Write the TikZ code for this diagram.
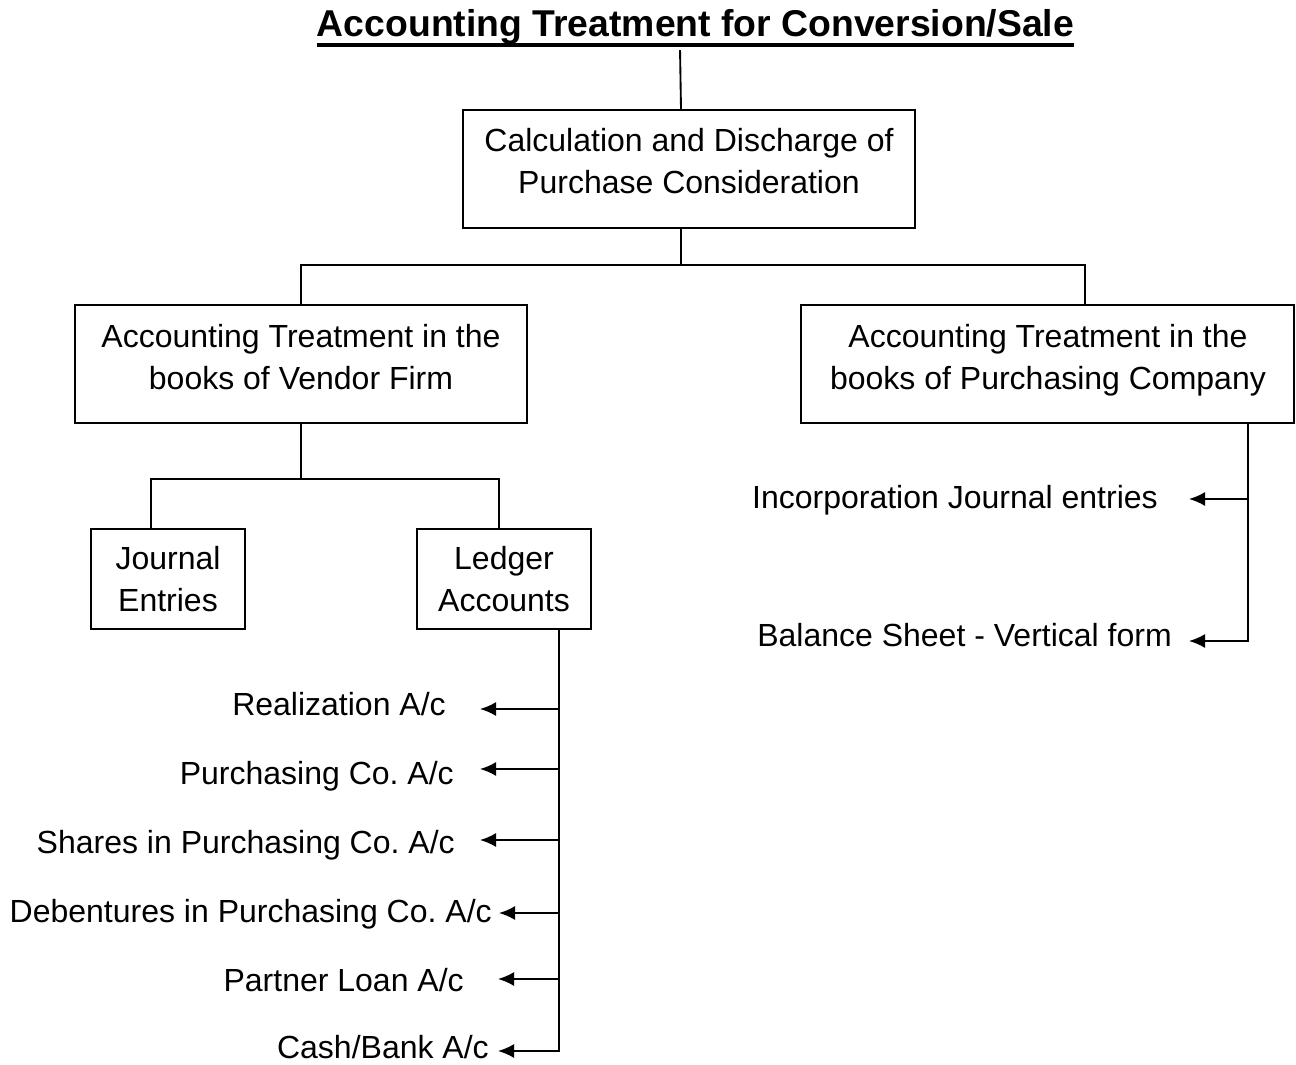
\documentclass[tikz,border=0pt]{standalone}
\usepackage{fontspec}
\setmainfont{Liberation Sans}
\usetikzlibrary{arrows.meta}
\frenchspacing
\begin{document}
\begin{tikzpicture}[x=0.75pt,y=-0.75pt,
  every node/.style={font=\fontsize{24}{31.5}\selectfont},
  ln/.style={line width=1.4pt},
  boxst/.style={draw,line width=1.4pt,fill=white,inner sep=0pt},
  txt/.style={align=center,inner sep=0pt},
  lbl/.style={inner sep=0pt,anchor=base east},
  arr/.style={line width=1.4pt,-{Latex[length=12pt,width=10.5pt]}}]
\useasboundingbox (0,0) rectangle (1296,1064);

% title
\node[inner sep=0pt,anchor=base,font=\fontsize{28}{34}\selectfont\bfseries] (title) at (695.5,36) {Accounting Treatment for Conversion/Sale};
\draw[line width=2.4pt] ([yshift=-6.75pt]title.base west) -- ([yshift=-6.75pt]title.base east);

% boxes
\node[boxst,minimum width=339pt,minimum height=88.5pt] (top) at (689,169) {};
\node[txt] (topt) at (689,161) {Calculation and Discharge of\\Purchase Consideration};

\node[boxst,minimum width=339pt,minimum height=88.5pt] (vend) at (301,364) {};
\node[txt] (vendt) at (301,357) {Accounting Treatment in the\\books of Vendor Firm};

\node[boxst,minimum width=369.75pt,minimum height=88.5pt] (purch) at (1047.5,364) {};
\node[txt] (purcht) at (1048,360) {Accounting Treatment in the\\books of Purchasing Company};

\node[boxst,align=center,minimum width=115.5pt,minimum height=75pt] (jour) at (168,579) {Journal\\Entries};
\node[boxst,align=center,minimum width=130.5pt,minimum height=75pt] (ledg) at (504,579) {Ledger\\Accounts};

% tree connectors
\draw[ln] ([xshift=-11.6pt,yshift=-4.5pt]title.south) -- ([xshift=-6pt]top.north);
\draw[ln] ([xshift=-6pt]top.south) -- ++(0,36) coordinate (j1);
\draw[ln] (vend.north) |- (j1) -| ([xshift=28.1pt]purch.north);
\draw[ln] (vend.south) -- ++(0,55) coordinate (j2);
\draw[ln] ([xshift=-12.75pt]jour.north) |- (j2) -| ([xshift=-3.75pt]ledg.north);

% ledger account labels
\node[lbl] (t1) at (446,715) {Realization A/c};
\node[lbl] (t2) at (454,784) {Purchasing Co. A/c};
\node[lbl] (t3) at (455,853) {Shares in Purchasing Co. A/c};
\node[lbl] (t4) at (492,922) {Debentures in Purchasing Co. A/c};
\node[lbl] (t5) at (464,991) {Partner Loan A/c};
\node[lbl] (t6) at (489,1058) {Cash/Bank A/c};

\coordinate (lt) at ([xshift=41.25pt]ledg.south);
\coordinate (a1) at (480,709);
\coordinate (a2) at (480,769);
\coordinate (a3) at (480,840);
\coordinate (a4) at (499,913);
\coordinate (a5) at (498,979);
\coordinate (a6) at (498,1051);
\draw[arr] (lt) |- (a6);
\draw[arr] (lt |- a1) -- (a1);
\draw[arr] (lt |- a2) -- (a2);
\draw[arr] (lt |- a3) -- (a3);
\draw[arr] (lt |- a4) -- (a4);
\draw[arr] (lt |- a5) -- (a5);

% purchasing company labels
\node[lbl] (r1) at (1158,508) {Incorporation Journal entries};
\node[lbl] (r2) at (1172,646) {Balance Sheet - Vertical form};
\coordinate (rt) at ([xshift=150.4pt]purch.south);
\coordinate (b1) at (1189,499);
\coordinate (b2) at (1189,641);
\draw[arr] (rt) |- (b2);
\draw[arr] (rt |- b1) -- (b1);
\end{tikzpicture}
\end{document}
